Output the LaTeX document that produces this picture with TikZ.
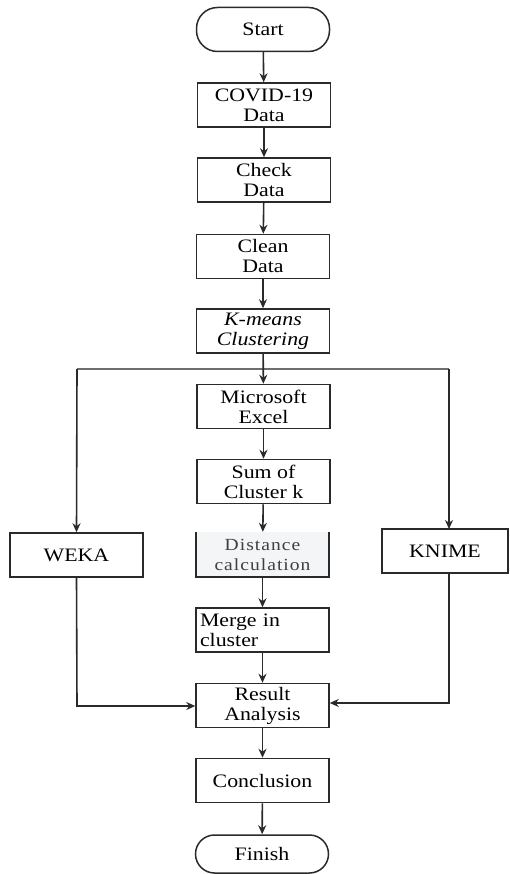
\documentclass[tikz,border=0pt]{standalone}
\usepackage{fontspec}
\setmainfont{Liberation Serif}[FakeStretch=1.15]
\usetikzlibrary{arrows.meta}
\definecolor{linec}{HTML}{2A2A2A}
\definecolor{hline}{HTML}{6E6E6E}
\definecolor{distfill}{HTML}{F4F5F7}
\begin{document}
\begin{tikzpicture}[x=1pt,y=-1pt,
  every node/.style={font=\fontsize{19}{20}\selectfont, text=black},
  box/.style={draw=linec, line width=1.5pt, minimum width=133pt, minimum height=44pt, align=center, inner sep=0pt},
  term/.style={box, rounded corners=21pt},
  conn/.style={draw=linec, line width=1.6pt, -{Stealth[length=9pt,width=8pt]}},
  plain/.style={draw=linec, line width=1.6pt}
]
\useasboundingbox (0,0) rectangle (509,874);
\node[term] (start) at (263,29.5) {Start};
\node[box] (covid) at (264,105) {COVID-19\\Data};
\node[box] (check) at (264,180) {Check\\Data};
\node[box] (clean) at (263,256.5) {Clean\\Data};
\node[box] (kmeans) at (263,331) {\itshape K-means\\\itshape Clustering};
\node[box] (excel) at (263.5,406.5) {Microsoft\\Excel};
\node[box] (sum) at (263.5,481.5) {Sum of\\Cluster k};
\node[minimum width=133pt, minimum height=45pt, fill=distfill, inner sep=0pt, align=center, text=black!75, font=\fontsize{17}{20}\selectfont\addfontfeatures{LetterSpace=6}] (dist) at (262.5,554.5) {Distance\\calculation};
\draw[linec, line width=1.5pt] (dist.north west) -- (dist.south west) -- (dist.south east) -- (dist.north east);
\node[box] (weka) at (76.5,555) {WEKA};
\node[box, minimum width=126pt] (knime) at (445,551) {KNIME};
\node[box, align=left, text width=125pt] (merge) at (262.5,630) {Merge in\\cluster};
\node[box] (result) at (262.5,705.5) {Result\\Analysis};
\node[box] (concl) at (262.5,780.5) {Conclusion};
\node[term, minimum height=38pt, rounded corners=19pt] (finish) at (262,854) {Finish};

\coordinate (hl) at (77,369);
\coordinate (hr) at (449,369);
\coordinate (kn) at (449,529);
\coordinate (knb) at (449,573);
\coordinate (lb) at (77,706);
\coordinate (rb) at (449,703);

\draw[conn] (start) -- (covid);
\draw[conn] (covid) -- (check);
\draw[conn] (check) -- (clean);
\draw[conn] (clean) -- (kmeans);
\draw[draw=hline, line width=2pt] (hl) -- (hr);
\draw[conn] (kmeans) -- (excel);
\draw[conn] (hl) -- (weka.north);
\draw[conn] (hr) -- (kn);
\draw[conn] (excel) -- (sum);
\draw[conn] (sum) -- (dist);
\draw[conn] (dist) -- (merge);
\draw[conn] (merge) -- (result);
\draw[conn] (weka.south) -- (lb) -- (lb -| result.west);
\draw[conn] (knb) -- (rb) -- (rb -| result.east);
\draw[conn] (result) -- (concl);
\draw[conn] (concl) -- (finish);
\end{tikzpicture}
\end{document}
